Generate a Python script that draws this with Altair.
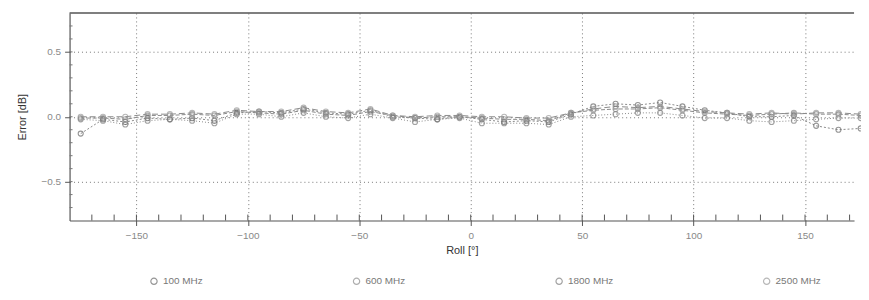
import altair as alt
import pandas as pd

roll = [-175, -165, -155, -145, -135, -125, -115, -105, -95, -85, -75, -65,
        -55, -45, -35, -25, -15, -5, 5, 15, 25, 35, 45, 55, 65, 75, 85, 95,
        105, 115, 125, 135, 145, 155, 165, 175]
freqs = ["100 MHz", "600 MHz", "1800 MHz", "2500 MHz"]

err_100 = [-0.13, -0.02, -0.04, -0.01, -0.02, -0.01, -0.03, 0.03, 0.04, 0.03, 0.06, 0.03,
           0.02, 0.05, 0.00, -0.01, -0.02, 0.00, -0.02, -0.04, -0.03, -0.04, 0.02, 0.08,
           0.10, 0.09, 0.11, 0.08, 0.05, 0.03, 0.00, 0.00, 0.01, -0.07, -0.10, -0.09]
err_600 = [-0.01, -0.01, -0.02, 0.01, 0.01, 0.02, 0.01, 0.04, 0.03, 0.02, 0.05, 0.02,
           0.01, 0.04, 0.01, -0.01, 0.00, 0.00, -0.01, -0.02, -0.02, -0.03, 0.03, 0.05,
           0.06, 0.06, 0.07, 0.05, 0.03, 0.02, 0.01, 0.02, 0.03, 0.02, 0.02, 0.01]
err_1800 = [-0.02, -0.03, -0.06, -0.03, -0.02, -0.03, -0.05, 0.02, 0.02, 0.00, 0.03, 0.00,
            -0.01, 0.02, -0.01, -0.04, -0.02, -0.01, -0.05, -0.05, -0.05, -0.06, 0.00, 0.01,
            0.02, 0.03, 0.03, 0.01, -0.01, -0.01, -0.03, -0.04, -0.03, -0.02, -0.01, -0.01]
err_2500 = [0.00, 0.00, 0.00, 0.02, 0.02, 0.03, 0.02, 0.05, 0.04, 0.04, 0.07, 0.04,
            0.03, 0.06, 0.01, 0.00, 0.01, 0.01, 0.00, 0.00, -0.01, -0.01, 0.03, 0.06,
            0.08, 0.07, 0.08, 0.06, 0.04, 0.03, 0.02, 0.03, 0.02, 0.03, 0.03, 0.02]

x_major = [-150, -100, -50, 0, 50, 100, 150]
x_minor = [v for v in range(-170, 180, 10)]
y_major = [-0.5, 0.0, 0.5]
y_minor = [round(-0.7 + 0.1 * i, 1) for i in range(15)]
y_top = [0.8]

series = {"100 MHz": err_100, "600 MHz": err_600, "1800 MHz": err_1800, "2500 MHz": err_2500}
rows = []
for f in freqs:
    for r, e in zip(roll, series[f]):
        rows.append({"roll": r, "err": e, "freq": f, "dash": f})
df = pd.DataFrame(rows)

W, H = 790, 209
x_scale = alt.Scale(domain=[-180, 172], nice=False, zero=False)
y_scale = alt.Scale(domain=[-0.8, 0.8], nice=False, zero=False)
x_axis = alt.Axis(values=x_major, title="Roll [°]", grid=True,
                  gridDash=[1, 3], gridColor="#777", gridWidth=1,
                  tickSize=5, labelPadding=5, titlePadding=4)
y_axis = alt.Axis(values=y_major, format=".1f", title="Error [dB]", grid=True,
                  gridDash=[1, 3], gridColor="#777", gridWidth=1,
                  tickSize=5, labelPadding=4, titlePadding=14)

base = alt.Chart(df)

lines = base.mark_line(strokeWidth=1, color="#8a8a8a").encode(
    x=alt.X("roll:Q", scale=x_scale, axis=x_axis),
    y=alt.Y("err:Q", scale=y_scale, axis=y_axis),
    detail="dash:N",
    strokeDash=alt.StrokeDash("dash:N", scale=alt.Scale(
        range=[[2, 2], [1, 2], [6, 3], [4, 2]]), legend=None),
)

points = base.mark_point(shape="circle", size=26, filled=False, strokeWidth=1.1).encode(
    x=alt.X("roll:Q", scale=x_scale, axis=x_axis),
    y=alt.Y("err:Q", scale=y_scale, axis=y_axis),
    color=alt.Color("freq:N", scale=alt.Scale(domain=freqs,
                    range=["#6a6a6a", "#8c8c8c", "#7c7c7c", "#9a9a9a"]),
                    legend=alt.Legend(title=None, orient="none", direction="horizontal",
                                      legendX=80, legendY=265, columnPadding=148,
                                      symbolType="circle",
                                      symbolSize=40, symbolStrokeWidth=1.2, labelFontSize=10,
                                      labelColor="#777", labelFont="Liberation Sans")),
)

xminor = alt.Chart(pd.DataFrame({"roll": x_minor})).mark_rule(color="#555", strokeWidth=1).encode(
    x=alt.X("roll:Q", scale=x_scale, axis=x_axis),
    y=alt.value(H), y2=alt.value(H - 6),
)
yminor = alt.Chart(pd.DataFrame({"err": y_minor})).mark_rule(color="#777", strokeWidth=1).encode(
    y=alt.Y("err:Q", scale=y_scale, axis=y_axis),
    x=alt.value(0), x2=alt.value(3),
)
top = alt.Chart(pd.DataFrame({"err": y_top})).mark_rule(color="#555", strokeWidth=1.5).encode(
    y=alt.Y("err:Q", scale=y_scale, axis=y_axis),
)

chart = alt.layer(lines, points, top, xminor, yminor).properties(
    width=W, height=H,
    autosize=alt.AutoSizeParams(type="none"),
    padding={"left": 62, "top": 4, "right": 7, "bottom": 78},
).configure_view(stroke=None).configure_axis(
    domainColor="#555", domainWidth=1.2, tickColor="#555",
    labelColor="#888", labelFont="Liberation Sans", labelFontSize=10,
    titleFont="Liberation Sans", titleFontSize=11, titleColor="#333",
    titleFontWeight="normal",
)

chart.save("out.html", embed_options={"renderer": "svg", "actions": False})
